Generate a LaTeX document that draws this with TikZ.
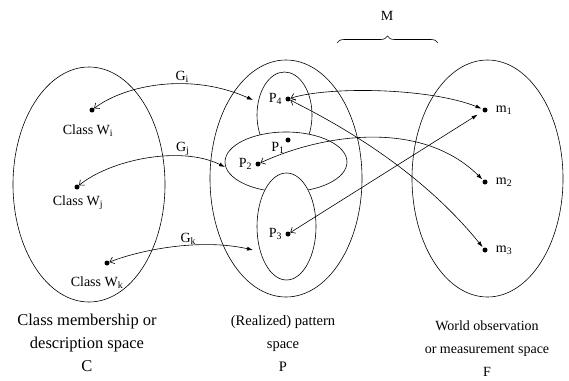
\documentclass[tikz,border=0pt]{standalone}
\usepackage{fontspec}
\setmainfont{Liberation Serif}
\usetikzlibrary{arrows.meta,positioning,decorations.pathreplacing}

\tikzset{
  region/.style={line width=0.6pt},
  dot/.style={circle,fill=black,inner sep=0pt,minimum size=5pt},
  lab/.style={font=\fontsize{14}{16}\selectfont,inner sep=2pt},
  maparrow/.style={{Straight Barb[length=4pt,width=7pt]}-{Latex[length=6pt,width=4pt]},line width=0.6pt},
  spacename/.style={align=center,inner sep=0pt}
}

\begin{document}
\begin{tikzpicture}[x=1pt,y=-1pt]
\useasboundingbox (0,0) rectangle (569,380);

% the three spaces C, P, F
\draw[region] (89,184.5) ellipse (76 and 117.5);
\draw[region] (286,178.5) ellipse (76 and 118.5);
\draw[region] (487.5,178.5) ellipse (75.5 and 118.5);

% sub-regions inside P
\draw[region] (284.5,115) ellipse (27.5 and 43);
\filldraw[region,fill=white] (286,162) ellipse (61 and 30);
\filldraw[region,fill=white] (286.5,226.5) ellipse (29.5 and 53.5);

% classes
\node[dot] (wi) at (92,110) {};
\node[dot] (wj) at (77,187) {};
\node[dot] (wk) at (107,263) {};
\node[lab] (wilab) at (88,131) {Class W\textsubscript{i}};
\node[lab] (wjlab) at (78,203) {Class W\textsubscript{j}};
\node[lab] (wklab) at (97,283) {Class W\textsubscript{k}};

% patterns
\node[dot] (p4) at (288,99) {};
\node[dot] (p1) at (288,140) {};
\node[dot] (p2) at (258,164) {};
\node[dot] (p3) at (288,234) {};
\node[lab,left=1pt of p4] (p4lab) {P\textsubscript{4}};
\node[lab] (p1lab) at (278,148) {P\textsubscript{1}};
\node[lab,left=1pt of p2] (p2lab) {P\textsubscript{2}};
\node[lab,left=1pt of p3] (p3lab) {P\textsubscript{3}};
\coordinate (p4in) at (253,100);
\coordinate (p2in) at (225,167);
\coordinate (p3in) at (253,250);

% measurements
\node[dot] (m1) at (485,110) {};
\node[dot] (m2) at (485,182) {};
\node[dot] (m3) at (485,250) {};
\node[lab,right=6pt of m1] (m1lab) {m\textsubscript{1}};
\node[lab,right=6pt of m2] (m2lab) {m\textsubscript{2}};
\node[lab,right=6pt of m3] (m3lab) {m\textsubscript{3}};

% mappings G between C and P
\draw[maparrow] (wi) .. controls (125,85) and (190,72) .. (p4in)
  node[lab,pos=0.62,above=-1pt] (gi) {G\textsubscript{i}};
\draw[maparrow] (wj) .. controls (110,160) and (180,145) .. (p2in)
  node[lab,pos=0.72,above=-1pt] (gj) {G\textsubscript{j}};
\draw[maparrow] (wk) .. controls (140,250) and (200,238) .. (p3in)
  node[lab,pos=0.6,above=-1pt] (gk) {G\textsubscript{k}};

% mapping M between P and F
\draw[maparrow,shorten >=1pt] (p4) .. controls (330,86) and (430,88) .. (m1);
\draw[maparrow,shorten >=1pt] (p4) .. controls (340,125) and (420,170) .. (m3);
\draw[maparrow,shorten >=1pt] (p2) .. controls (320,135) and (420,118) .. (m2);
\draw[maparrow,shorten >=6pt] (p3) -- (m1);

\draw[region,decorate,decoration={brace,amplitude=7pt}] (337,43) -- (438,43);
\node[lab] (mlab) at (387,16) {M};

% names of the spaces
\node[spacename,font=\fontsize{16.5}{23}\selectfont] (cname) at (87,343)
  {Class membership or\\description space\\C};
\node[spacename,font=\fontsize{14.5}{23}\selectfont] (pname) at (283,343)
  {(Realized) pattern\\space\\P};
\node[spacename,font=\fontsize{14}{23}\selectfont] (fname) at (487,349)
  {World observation\\or measurement space\\F};
\end{tikzpicture}
\end{document}
